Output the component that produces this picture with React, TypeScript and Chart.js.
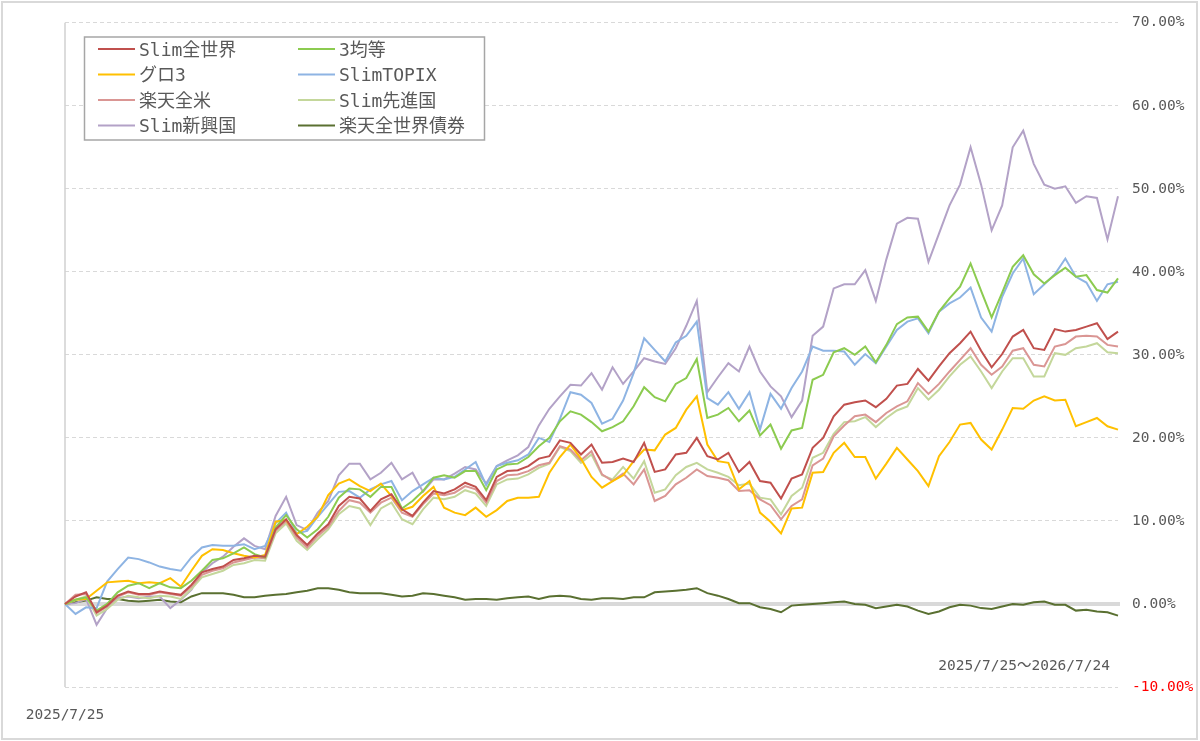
import React, { useEffect, useRef } from 'react';
import { Chart, registerables } from 'chart.js';

Chart.register(...registerables);

const RANGE_LABEL = '2025/7/25～2026/7/24';
const Y_MIN = -10;
const Y_MAX = 70;
const Y_STEP = 10;

const SERIES_NAMES = ['Slim全世界', '3均等', 'グロ3', 'SlimTOPIX', '楽天全米', 'Slim先進国', 'Slim新興国', '楽天全世界債券'];
const SERIES_COLORS = ['#C0504D', '#8CCB50', '#FFC000', '#8EB4E3', '#DA9694', '#C4D79B', '#B3A2C7', '#5A7031'];

// x categories: sampled trading dates from 2025/7/25 to 2026/7/24
const CATEGORIES = Array.from({ length: 101 }, (_, i) => {
  const d = new Date(2025, 6, 25 + Math.round(i * 3.64));
  return `${d.getFullYear()}/${d.getMonth() + 1}/${d.getDate()}`;
});

const SLIM_ALL = [0, 0.9, 1.4, -1.0, -0.2, 1.0, 1.5, 1.2, 1.2, 1.5, 1.3, 1.1, 2.3, 3.8, 4.2, 4.5, 5.3, 5.5, 5.8, 5.7, 9.0, 10.2, 8.3, 7.1, 8.5, 9.6, 11.8,
  12.9, 12.7, 11.2, 12.6, 13.2, 11.4, 10.6, 12.2, 13.6, 13.3, 13.8, 14.6, 14.1, 12.5, 15.3, 16.0, 16.1, 16.6, 17.5, 17.8, 19.7, 19.4, 18.0, 19.2,
  17.0, 17.1, 17.5, 17.1, 19.4, 15.9, 16.2, 18.0, 18.2, 20.0, 17.8, 17.4, 18.2, 15.9, 17.1, 14.8, 14.6, 12.7, 15.1, 15.6, 18.8, 20.0, 22.6, 24.0,
  24.3, 24.5, 23.7, 24.7, 26.3, 26.5, 28.3, 26.9, 28.6, 30.2, 31.4, 32.8, 30.5, 28.5, 30.1, 32.2, 33.0, 30.8, 30.6, 33.1, 32.8, 33.0, 33.4, 33.8, 31.9, 32.8];

const EQUAL3 = [0, 0.5, 0.8, -0.8, 0.0, 1.4, 2.2, 2.5, 1.9, 2.5, 2.0, 1.9, 2.8, 4.0, 5.3, 5.5, 6.1, 6.8, 6.0, 5.6, 9.2, 10.7, 9.0, 8.0, 9.0, 10.5, 12.8,
  13.9, 13.8, 12.9, 14.1, 14.1, 11.5, 12.4, 13.6, 15.2, 15.5, 15.2, 16.0, 16.0, 13.7, 16.2, 16.8, 16.9, 17.7, 19.0, 20.0, 22.0, 23.2, 22.8, 21.9,
  20.8, 21.3, 22.0, 23.8, 26.1, 24.9, 24.4, 26.5, 27.2, 29.5, 22.4, 22.8, 23.6, 22.0, 23.3, 20.3, 21.6, 18.7, 20.9, 21.2, 27.0, 27.6, 30.3, 30.8,
  30.0, 31.0, 29.1, 31.2, 33.7, 34.5, 34.6, 32.8, 35.2, 36.8, 38.2, 41.0, 37.7, 34.5, 37.5, 40.6, 42.0, 39.7, 38.6, 39.6, 40.5, 39.4, 39.6, 37.8, 37.5, 39.2];

const GLOBAL3 = [0, 0.5, 0.6, 1.6, 2.6, 2.7, 2.8, 2.5, 2.6, 2.5, 3.1, 2.1, 4.0, 5.8, 6.6, 6.5, 6.1, 5.8, 5.6, 5.9, 9.9, 10.1, 8.4, 9.3, 10.5, 13.1, 14.5,
  15.0, 14.2, 13.6, 14.5, 13.0, 11.3, 11.7, 13.0, 14.1, 11.6, 11.0, 10.7, 11.6, 10.5, 11.3, 12.4, 12.8, 12.8, 12.9, 15.8, 17.7, 19.2, 17.5, 15.3,
  14.0, 14.8, 15.5, 17.2, 18.6, 18.5, 20.4, 21.2, 23.4, 25.0, 19.2, 17.2, 17.0, 13.8, 14.8, 11.0, 9.9, 8.5, 11.5, 11.6, 15.8, 15.9, 18.2, 19.4,
  17.7, 17.7, 15.1, 16.9, 18.8, 17.4, 16.0, 14.2, 17.8, 19.5, 21.6, 21.8, 19.8, 18.6, 21.0, 23.6, 23.5, 24.5, 25.0, 24.5, 24.6, 21.4, 21.9, 22.4, 21.4, 21.0];

const TOPIX = [0, -1.2, -0.4, -0.5, 2.7, 4.2, 5.6, 5.4, 5.0, 4.5, 4.2, 4.0, 5.6, 6.8, 7.1, 7.0, 7.0, 7.2, 6.6, 7.0, 9.7, 11.0, 8.5, 8.8, 10.5, 12.0, 13.5,
  13.6, 12.8, 13.8, 14.4, 14.8, 12.5, 13.6, 14.4, 15.2, 15.0, 15.3, 16.2, 17.1, 14.3, 16.6, 17.0, 17.3, 18.0, 20.0, 19.5, 22.3, 25.5, 25.2, 24.2,
  21.7, 22.3, 24.5, 27.8, 32.0, 30.6, 29.2, 31.5, 32.3, 34.0, 24.8, 24.0, 25.5, 23.5, 25.5, 21.0, 25.3, 23.5, 26.0, 28.0, 31.0, 30.5, 30.5, 30.4,
  28.8, 30.1, 29.0, 31.0, 33.0, 34.0, 34.4, 32.6, 35.2, 36.2, 36.9, 38.1, 34.5, 32.8, 37.0, 39.8, 41.6, 37.3, 38.5, 39.7, 41.6, 39.4, 38.7, 36.5, 38.5, 38.8];

const RAKUTEN_US = [0, 1.1, 1.2, -1.1, -0.3, 0.9, 1.4, 1.1, 1.1, 1.4, 1.2, 1.0, 2.1, 3.5, 4.0, 4.3, 5.0, 5.3, 5.6, 5.5, 8.8, 10.0, 8.0, 6.8, 8.2, 9.3, 11.2,
  12.5, 12.2, 11.0, 12.2, 12.8, 11.0, 10.5, 12.0, 13.3, 13.1, 13.4, 14.2, 13.8, 12.2, 14.8, 15.5, 15.6, 16.0, 16.7, 17.0, 19.0, 18.6, 17.3, 18.4,
  15.6, 14.8, 15.7, 14.4, 16.2, 12.4, 13.0, 14.4, 15.2, 16.2, 15.4, 15.2, 14.9, 13.6, 13.7, 12.6, 11.9, 10.2, 11.8, 12.6, 16.7, 17.5, 20.2, 21.5,
  22.6, 22.8, 21.9, 23.0, 23.8, 24.4, 26.6, 25.3, 26.5, 28.0, 29.4, 30.8, 28.8, 27.6, 28.6, 30.5, 30.8, 28.8, 28.6, 31.0, 31.3, 32.2, 32.3, 32.2, 31.2, 31.0];

const SLIM_DEVELOPED = [0, 0.5, 0.9, -1.4, -0.6, 0.5, 1.0, 0.8, 0.7, 1.0, 0.9, 0.6, 1.8, 3.2, 3.6, 4.0, 4.7, 4.9, 5.3, 5.2, 8.5, 9.7, 7.6, 6.5, 7.8, 9.0, 10.8,
  11.8, 11.5, 9.5, 11.5, 12.2, 10.2, 9.6, 11.4, 12.8, 12.6, 12.9, 13.7, 13.3, 11.8, 14.4, 15.0, 15.1, 15.6, 16.4, 16.9, 18.9, 18.4, 17.0, 18.0,
  15.5, 15.0, 16.5, 15.1, 17.2, 13.4, 13.8, 15.5, 16.5, 17.0, 16.2, 15.8, 15.3, 14.3, 14.5, 12.8, 12.6, 10.8, 13.0, 14.0, 17.6, 18.2, 20.5, 21.9,
  22.0, 22.5, 21.3, 22.4, 23.3, 23.8, 26.0, 24.6, 25.8, 27.4, 28.8, 29.8, 28.0, 26.0, 28.0, 29.6, 29.6, 27.4, 27.4, 30.2, 30.0, 30.8, 31.0, 31.4, 30.3, 30.2];

const SLIM_EMERGING = [0, 0.1, 0.6, -2.5, -0.5, 0.7, 0.9, 0.7, 0.9, 0.9, -0.5, 0.5, 1.7, 3.8, 4.9, 5.7, 6.9, 7.9, 7.0, 6.6, 10.6, 12.9, 9.5, 8.9, 11.0, 12.4, 15.5,
  16.9, 16.9, 15.0, 15.8, 17.0, 15.0, 15.8, 13.5, 15.0, 15.0, 15.7, 16.5, 16.2, 14.5, 16.6, 17.3, 17.9, 18.9, 21.5, 23.5, 25.0, 26.4, 26.3, 27.8,
  25.8, 28.5, 26.5, 28.0, 29.6, 29.2, 28.9, 30.8, 33.5, 36.5, 25.5, 27.3, 29.0, 28.0, 31.0, 28.0, 26.2, 25.0, 22.5, 24.5, 32.3, 33.4, 38.0, 38.5,
  38.5, 40.2, 36.5, 41.5, 45.8, 46.5, 46.4, 41.2, 44.6, 48.0, 50.5, 55.0, 50.5, 45.0, 48.0, 55.0, 57.0, 53.0, 50.5, 50.0, 50.3, 48.3, 49.1, 48.9, 43.9, 49.1];

const RAKUTEN_BOND = [0, 0.2, 0.4, 0.8, 0.6, 0.6, 0.4, 0.3, 0.4, 0.5, 0.3, 0.2, 0.9, 1.3, 1.3, 1.3, 1.1, 0.8, 0.8, 1.0, 1.1, 1.2, 1.4, 1.6, 1.9, 1.9, 1.7,
  1.4, 1.3, 1.3, 1.3, 1.1, 0.9, 1.0, 1.3, 1.2, 1.0, 0.8, 0.5, 0.6, 0.6, 0.5, 0.7, 0.8, 0.9, 0.6, 0.9, 1.0, 0.9, 0.6, 0.5,
  0.7, 0.7, 0.6, 0.8, 0.8, 1.4, 1.5, 1.6, 1.7, 1.9, 1.3, 1.0, 0.6, 0.1, 0.1, -0.4, -0.6, -1.0, -0.2, -0.1, 0.0, 0.1, 0.2, 0.3,
  0.0, -0.1, -0.5, -0.3, -0.1, -0.3, -0.8, -1.2, -0.9, -0.4, -0.1, -0.2, -0.5, -0.6, -0.3, 0.0, -0.1, 0.2, 0.3, -0.1, -0.1, -0.8, -0.7, -0.9, -1.0, -1.4];

const SERIES_VALUES = [SLIM_ALL, EQUAL3, GLOBAL3, TOPIX, RAKUTEN_US, SLIM_DEVELOPED, SLIM_EMERGING, RAKUTEN_BOND];

const FONT_FAMILY = "'DejaVu Sans Mono', 'Noto Sans CJK JP', monospace";
const TEXT_COLOR = '#595959';
const GRID_COLOR = '#D9D9D9';

const decorPlugin = {
  id: 'decor',
  beforeDatasetsDraw(chart: any) {
    const { ctx, chartArea: a, scales } = chart;
    const y0 = scales.y.getPixelForValue(0);
    ctx.save();
    ctx.strokeStyle = GRID_COLOR;
    ctx.lineWidth = 4;
    ctx.beginPath();
    ctx.moveTo(a.left, y0);
    ctx.lineTo(a.right + 2, y0);
    ctx.stroke();
    ctx.lineWidth = 1.5;
    ctx.strokeStyle = '#D0D0D0';
    ctx.beginPath();
    ctx.moveTo(a.left, a.top);
    ctx.lineTo(a.left, a.bottom);
    ctx.stroke();
    ctx.restore();
  },
  afterDatasetsDraw(chart: any) {
    const { ctx, chartArea: a } = chart;
    ctx.save();
    // legend box
    const bx = 84.5, by = 37, bw = 400, bh = 103;
    ctx.fillStyle = '#FFFFFF';
    ctx.fillRect(bx, by, bw, bh);
    ctx.strokeStyle = '#A6A6A6';
    ctx.lineWidth = 1.5;
    ctx.strokeRect(bx, by, bw, bh);
    ctx.font = `18px ${FONT_FAMILY}`;
    ctx.textBaseline = 'middle';
    ctx.textAlign = 'left';
    chart.data.datasets.forEach((ds: any, i: number) => {
      const col = i % 2;
      const row = Math.floor(i / 2);
      const lx = col === 0 ? 98 : 298;
      const ly = 50 + row * 25.5;
      ctx.strokeStyle = ds.borderColor;
      ctx.lineWidth = 2;
      ctx.beginPath();
      ctx.moveTo(lx, ly - 1);
      ctx.lineTo(lx + 37, ly - 1);
      ctx.stroke();
      ctx.fillStyle = TEXT_COLOR;
      ctx.fillText(ds.label, lx + 41, ly + 1);
    });
    // period text
    ctx.font = `14.5px ${FONT_FAMILY}`;
    ctx.textAlign = 'right';
    ctx.fillStyle = TEXT_COLOR;
    ctx.fillText(RANGE_LABEL, a.right - 8, scales_y(chart, -7.5));
    ctx.restore();
  },
};

function scales_y(chart: any, v: number) {
  return chart.scales.y.getPixelForValue(v);
}

export default function App() {
  const canvasRef = useRef<HTMLCanvasElement | null>(null);

  useEffect(() => {
    document.body.style.margin = '0';
    const canvas = canvasRef.current;
    if (!canvas) return;
    const chart = new Chart(canvas, {
      type: 'line',
      data: {
        labels: CATEGORIES,
        datasets: SERIES_NAMES.map((name, i) => ({
          label: name,
          data: SERIES_VALUES[i],
          borderColor: SERIES_COLORS[i],
          backgroundColor: SERIES_COLORS[i],
          borderWidth: 2,
          pointRadius: 0,
          pointHoverRadius: 0,
          tension: 0,
          fill: false,
        })),
      },
      options: {
        responsive: false,
        animation: false,
        events: [],
        layout: { padding: { left: 65, top: 22, right: 0, bottom: 0 } },
        plugins: {
          legend: { display: false },
          tooltip: { enabled: false },
          title: { display: false },
        },
        scales: {
          x: {
            type: 'category',
            grid: { display: false },
            border: { display: false },
            afterFit(scale: any) {
              scale.height = 54;
            },
            ticks: {
              autoSkip: false,
              maxRotation: 0,
              minRotation: 0,
              padding: 12,
              color: TEXT_COLOR,
              font: { family: FONT_FAMILY, size: 14.5 },
              callback: (_v: any, idx: number) => (idx === 0 ? CATEGORIES[0] : ''),
            },
          },
          y: {
            position: 'right',
            min: Y_MIN,
            max: Y_MAX,
            afterFit(scale: any) {
              scale.width = 82;
            },
            border: { display: false, dash: [4, 3] },
            grid: {
              drawTicks: false,
              lineWidth: 1,
              color: (ctx: any) => (ctx.tick && ctx.tick.value === 0 ? 'rgba(0,0,0,0)' : GRID_COLOR),
            },
            ticks: {
              stepSize: Y_STEP,
              padding: 14,
              color: (ctx: any) => (ctx.tick && ctx.tick.value === Y_MIN ? '#FF0000' : TEXT_COLOR),
              font: { family: FONT_FAMILY, size: 14.5 },
              callback: (v: any) => `${Number(v).toFixed(2)}%`,
            },
          },
        },
      },
      plugins: [decorPlugin],
    } as any);
    return () => chart.destroy();
  }, []);

  return (
    <div style={{ position: 'fixed', left: 0, top: 0, width: 1200, height: 741, background: '#FFFFFF' }}>
      <canvas ref={canvasRef} width={1200} height={741} style={{ width: 1200, height: 741, display: 'block' }} />
      <div
        style={{
          position: 'absolute',
          left: 1,
          top: 1,
          width: 1197,
          height: 739,
          border: '2px solid #D9D9D9',
          boxSizing: 'border-box',
          pointerEvents: 'none',
        }}
      />
    </div>
  );
}
